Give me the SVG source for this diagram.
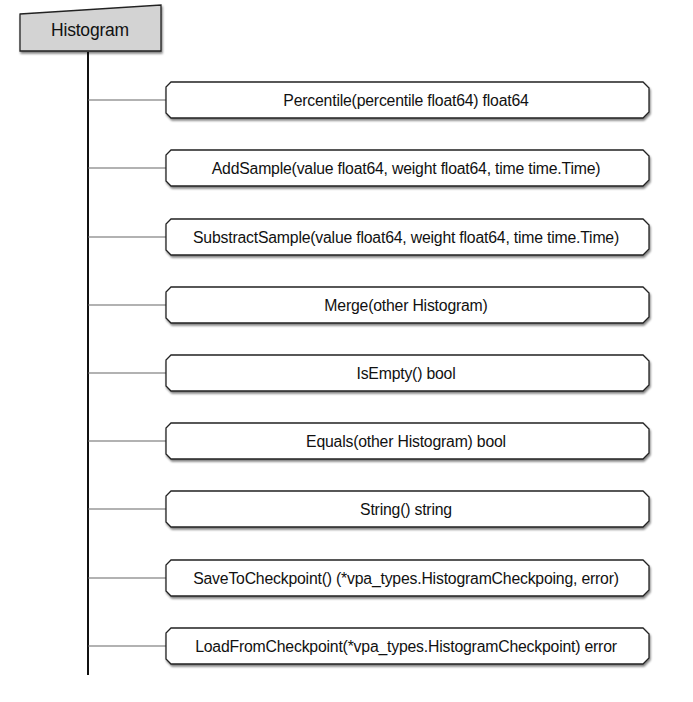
<svg xmlns="http://www.w3.org/2000/svg" width="693" height="702" viewBox="0 0 693 702">
<defs>
<filter id="sh" x="-5%" y="-20%" width="110%" height="150%">
<feGaussianBlur in="SourceAlpha" stdDeviation="1.2"/>
<feOffset dx="1" dy="2" result="b"/>
<feComponentTransfer><feFuncA type="linear" slope="0.5"/></feComponentTransfer>
<feMerge><feMergeNode/><feMergeNode in="SourceGraphic"/></feMerge>
</filter>
<path id="box" d="M171,0 H643 L649,6 V30 L643,36 H171 L166,31 V5 Z"/>
</defs>
<style>
.node use{fill:#fff;stroke:#222;stroke-width:1.3;filter:url(#sh)}
.t{font-family:"Liberation Sans",Arial,sans-serif;font-size:15.8px;fill:#111;text-anchor:middle;letter-spacing:-0.2px}
.c line{stroke:#666;stroke-width:1.2}
</style>
<rect width="693" height="702" fill="#fff"/>
<g id="connectors" class="c">
<line x1="88" y1="52" x2="88" y2="675" style="stroke:#111;stroke-width:2"/>
<line x1="88" y1="100" x2="166" y2="100"/>
<line x1="88" y1="168" x2="166" y2="168"/>
<line x1="88" y1="237" x2="166" y2="237"/>
<line x1="88" y1="305" x2="166" y2="305"/>
<line x1="88" y1="373" x2="166" y2="373"/>
<line x1="88" y1="441" x2="166" y2="441"/>
<line x1="88" y1="509" x2="166" y2="509"/>
<line x1="88" y1="578" x2="166" y2="578"/>
<line x1="88" y1="646" x2="166" y2="646"/>
</g>
<g id="histogram">
<path d="M20,14 L161,5 V51 H20 Z" fill="#d3d3d3" stroke="#222" stroke-width="1.3" filter="url(#sh)"/>
<text x="90" y="36" style="font-family:'Liberation Sans',Arial,sans-serif;font-size:17.5px;fill:#111;text-anchor:middle;letter-spacing:-0.2px">Histogram</text>
</g>
<g id="n1" class="node"><use href="#box" y="82"/><text class="t" x="406" y="106">Percentile(percentile float64) float64</text></g>
<g id="n2" class="node"><use href="#box" y="150"/><text class="t" x="406" y="174">AddSample(value float64, weight float64, time time.Time)</text></g>
<g id="n3" class="node"><use href="#box" y="219"/><text class="t" x="406" y="243">SubstractSample(value float64, weight float64, time time.Time)</text></g>
<g id="n4" class="node"><use href="#box" y="287"/><text class="t" x="406" y="311">Merge(other Histogram)</text></g>
<g id="n5" class="node"><use href="#box" y="355"/><text class="t" x="406" y="379">IsEmpty() bool</text></g>
<g id="n6" class="node"><use href="#box" y="423"/><text class="t" x="406" y="447">Equals(other Histogram) bool</text></g>
<g id="n7" class="node"><use href="#box" y="491"/><text class="t" x="406" y="515">String() string</text></g>
<g id="n8" class="node"><use href="#box" y="560"/><text class="t" x="406" y="584">SaveToCheckpoint() (*vpa_types.HistogramCheckpoing, error)</text></g>
<g id="n9" class="node"><use href="#box" y="628"/><text class="t" x="406" y="652">LoadFromCheckpoint(*vpa_types.HistogramCheckpoint) error</text></g>
</svg>
